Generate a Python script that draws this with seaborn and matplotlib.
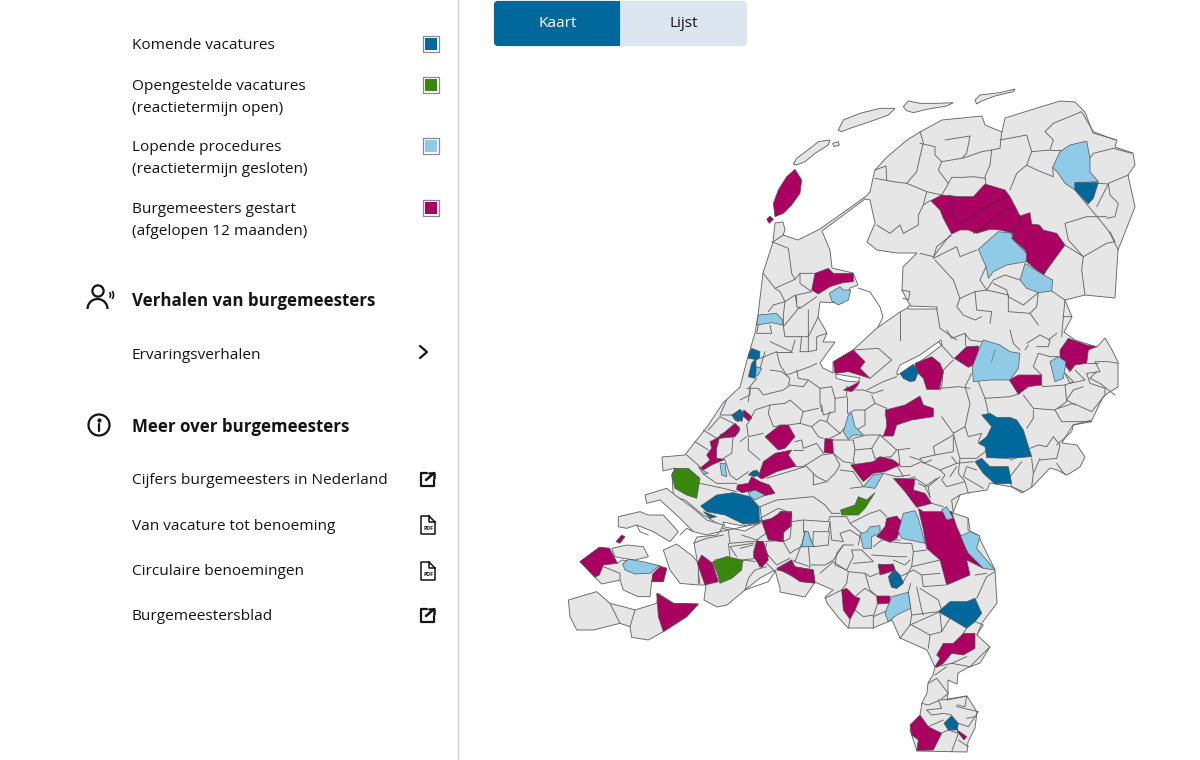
import matplotlib
matplotlib.use('Agg')
import matplotlib.pyplot as plt
from matplotlib.patches import Circle, Arc, FancyBboxPatch, Rectangle
import pandas as pd
import seaborn as sns

# ── Colours ───────────────────────────────────────────────────────────────────
BLUE    = '#01689b'
GREEN   = '#39870c'
LIGHT   = '#8fcae7'
MAGENTA = '#a90061'
LAND    = '#e6e6e6'
LINE    = '#666666'
TEXT    = '#141414'

# ── Legend and menu ───────────────────────────────────────────────────────────
legend_labels = ['Komende vacatures', 'Opengestelde vacatures', 'Lopende procedures', 'Burgemeesters gestart']
legend_notes  = ['', '(reactietermijn open)', '(reactietermijn gesloten)', '(afgelopen 12 maanden)']
menu_heads    = ['Verhalen van burgemeesters', 'Meer over burgemeesters']
menu_items    = ['Ervaringsverhalen', 'Cijfers burgemeesters in Nederland', 'Van vacature tot benoeming',
                 'Circulaire benoemingen', 'Burgemeestersblad']
tabs          = ['Kaart', 'Lijst']

# ── Map, traced in picture pixels ─────────────────────────────────────────────
mainland = [(783,222),(785,230),(783,235),(798,240),(810,234),(820,229),(865,197),(870,192),(873,178),(875,170),(887,157),
    (907,140),(920,132),(942,120),(982,116),(985,125),(1002,132),(1005,118),(1037,108),(1060,101),(1075,102),
    (1085,112),(1093,133),(1117,140),(1115,147),(1133,153),(1135,165),(1128,175),(1135,207),(1118,250),(1115,298),
    (1085,295),(1065,300),(1072,317),(1064,332),(1075,340),(1097,347),(1105,338),(1112,350),(1118,362),(1118,387),
    (1108,393),(1103,397),(1092,420),(1073,425),(1062,443),(1077,445),(1085,457),(1080,467),(1067,475),(1057,470),
    (1050,468),(1032,487),(1022,493),(1012,487),(990,483),(987,490),(967,493),(960,495),(953,513),(968,518),
    (968,530),(978,535),(995,570),(997,603),(982,623),(977,635),(990,647),(980,663),(967,668),(958,673),(957,684),
    (948,680),(948,693),(947,700),(967,696),(977,712),(975,728),(968,742),(967,752),(917,751),(910,730),(920,715),
    (922,703),(927,693),(928,683),(933,675),(935,667),(927,650),(900,638),(892,620),(873,628),(848,628),(838,617),
    (827,603),(825,597),(833,590),(815,582),(805,597),(780,592),(780,588),(775,570),(760,578),(745,590),(727,605),
    (717,607),(704,600),(706,585),(700,585),(697,560),(694,543),(697,537),(717,535),(723,527),(703,515),(685,500),
    (675,497),(673,492),(672,475),(675,468),(663,471),(662,457),(685,455),(695,442),(707,427),(723,403),(740,387),
    (747,360),(755,333),(758,315),(763,273),(773,242),(775,223)]

ijsselmeer = [(822,231),(865,199),(870,200),(875,223),(867,242),(877,250),(897,253),(917,253),(903,267),(902,290),
    (907,300),(911,306),(900,312),(877,328),(853,350),(833,362),(833,373),(823,368),(820,363),(835,342),(823,342),
    (827,333),(818,317),(820,302),(842,303),(850,288),(858,285),(853,273),(832,268),(830,250)]
other_water = [
    [(897,372),(900,365),(920,355),(941,340),(942,345),(925,358),(905,372),(897,375)],
    [(836,374),(860,378),(858,382),(845,381),(836,378)],
    [(908,306),(937,307),(937,309),(908,309)],
    [(723,522),(743,526),(757,523),(762,519),(760,523),(745,531),(725,527)],
]
houtribdijk = [(858,288),(870,292),(880,307),(883,317),(878,327)]

north_islands = [
    [(100,222),(110,205),(150,175),(175,155),(210,150),(205,165),(165,190),(135,215),(110,225)],
    [(218,160),(235,155),(238,165),(222,170)],
    [(235,120),(250,90),(300,70),(360,55),(405,55),(385,75),(330,95),(270,115),(245,125)],
    [(430,50),(445,33),(480,40),(530,40),(580,38),(560,48),(500,58),(460,68),(440,62)],
    [(645,30),(660,15),(720,8),(765,-3),(760,5),(705,18),(665,33),(650,42)],
]
sw_islands = [
    [(255,285),(320,265),(345,285),(400,325),(440,360),(490,375),(480,395),(440,405),(400,395),(355,350),(300,300),(260,310)],
    [(175,350),(240,335),(265,345),(310,345),(355,395),(330,425),(280,395),(230,375),(200,385),(175,380)],
    [(155,445),(200,435),(250,440),(265,470),(225,480),(190,475),(165,470)],
    [(60,485),(118,442),(148,445),(172,490),(185,480),(298,497),(320,505),(310,545),(275,545),(270,590),(235,590),(190,570),(180,540),(125,552),(105,532)],
    [(310,450),(350,432),(400,470),(415,490),(415,555),(360,550),(330,510)],
    [(25,600),(110,575),(150,610),(190,620),(225,630),(290,610),(295,580),(340,610),(415,612),(380,650),(310,695),(265,720),(215,712),(210,680),(180,670),(100,690),(50,690),(30,650)],
]

# statuses per map part, coordinates of a 3x crop of that part
north_light = [
    [(900,185),(930,165),(980,153),(990,205),(990,245),(1015,275),(945,278),(945,300),(915,280),(895,250),(878,232)],
    [(655,478),(715,425),(760,430),(755,445),(800,490),(798,515),(740,525),(700,545),(685,565),(678,530)],
    [(780,570),(795,520),(855,557),(878,570),(875,603),(835,608),(800,595)],
    [(208,610),(240,590),(250,600),(272,600),(265,630),(235,645),(215,632)],
]
north_blue = [[(945,278),(1015,278),(1000,325),(985,342),(945,300)]]
north_magenta = [
    [(512,332),(545,315),(600,320),(640,320),(675,282),(735,300),(750,320),(780,378),(810,368),(815,402),(838,405),(850,420),(890,430),(915,465),(860,540),(850,557),(800,515),(795,480),(755,445),(760,430),(720,420),(690,418),(650,430),(625,420),(600,420),(575,432),(550,385),(540,360)],
    [(155,600),(165,550),(205,535),(220,550),(280,550),(280,575),(250,578),(210,590),(175,612)],
]
texel_magenta = [
    [(225,28),(245,60),(240,100),(215,135),(190,160),(165,170),(160,130),(175,90),(200,50)],
    [(140,178),(150,168),(160,178),(148,190)],
]
holland_light = [
    [(115,465),(170,460),(188,480),(188,495),(155,488),(110,495)],
    [(108,620),(125,625),(115,645),(105,645)],
]
holland_blue = [[(85,585),(95,565),(120,575),(118,595),(108,600),(108,635),(105,655),(85,650),(95,610),(105,598),(85,595)]]

mid_magenta = [
    [(340,95),(400,60),(435,95),(420,115),(450,145),(385,125),(345,130)],
    [(370,180),(420,155),(410,170),(395,185)],
    [(585,100),(635,80),(660,100),(670,125),(658,178),(620,178),(610,145),(590,125)],
    [(703,85),(740,50),(775,48),(780,95),(745,112)],
    [(1020,60),(1045,25),(1100,45),(1130,50),(1105,60),(1100,100),(1065,105),(1050,125),(1020,85)],
    [(868,150),(895,135),(965,135),(965,165),(925,170),(895,193)],
    [(497,240),(555,225),(580,210),(600,198),(610,225),(640,235),(640,260),(575,270),(530,285),(520,318),(490,318),(500,290)],
    [(315,325),(338,328),(340,370),(312,368)],
    [(135,320),(180,285),(205,285),(225,320),(195,355),(175,360)],
    [(115,440),(130,395),(165,370),(215,360),(205,375),(228,408),(170,425),(125,447)],
    [(52,465),(85,460),(95,440),(120,455),(148,465),(165,490),(130,498),(100,482),(65,488),(50,478)],
    [(125,572),(165,565),(180,545),(215,545),(212,590),(192,600),(190,635),(150,628),(145,598)],
    [(100,668),(110,632),(130,635),(145,680),(120,712)],
    [(170,715),(215,690),(225,710),(280,720),(285,760),(245,755),(200,730)],
    [(392,405),(460,395),(480,380),(520,390),(540,405),(495,425),(460,430),(430,455)],
    [(520,445),(585,447),(580,480),(615,490),(635,520),(590,532),(555,485)],
    [(595,535),(610,545),(695,545),(710,590),(740,655),(790,715),(740,690),(750,735),(680,765),(660,690),(620,655),(610,600)],
    [(470,620),(495,590),(500,565),(530,558),(550,580),(530,625),(510,637)],
    [(475,702),(520,710),(525,720),(480,735)],
    [(70,240),(95,265),(85,272),(70,258)],
    [(0,315),(45,290),(60,300),(45,320),(0,325)],
]
mid_light = [
    [(757,110),(780,50),(790,30),(840,45),(870,65),(900,70),(895,115),(870,150),(810,150),(760,155)],
    [(990,95),(1015,80),(1038,95),(1030,145),(1005,155)],
    [(385,255),(395,250),(405,290),(430,315),(400,315),(385,328),(370,305)],
    [(85,487),(105,480),(135,495),(105,510),(90,500)],
    [(430,470),(460,435),(490,430),(465,475)],
    [(665,540),(680,530),(700,565),(680,570)],
    [(722,618),(750,605),(780,618),(770,655),(825,720),(790,715),(745,670),(735,650)],
    [(535,605),(550,550),(585,542),(595,565),(615,640),(545,625)],
    [(420,612),(440,605),(450,590),(480,587),(480,610),(455,620),(455,655),(430,655)],
    [(245,645),(255,602),(265,610),(280,650)],
]
mid_blue = [
    [(540,130),(580,103),(595,125),(585,152),(570,155),(550,145)],
    [(35,255),(60,240),(70,255),(55,275),(45,270)],
    [(90,430),(110,420),(120,435),(100,440)],
    [(505,740),(520,722),(535,735),(550,755),(530,775),(515,770)],
    [(785,255),(810,250),(830,262),(870,262),(890,270),(910,300),(935,380),(860,385),(800,383),(795,350),(775,340),(800,320),(815,290)],
    [(765,395),(785,385),(810,410),(865,410),(875,460),(825,462),(790,430)],
]
mid_green = [[(362,540),(405,525),(415,500),(440,510),(465,488),(435,535),(415,555),(365,555)]]

sw_magenta = [
    [(60,485),(118,442),(148,445),(172,490),(130,495),(118,525),(105,532)],
    [(275,545),(278,522),(300,500),(320,505),(310,545)],
    [(290,580),(340,610),(415,612),(380,650),(310,695),(295,650)],
    [(412,490),(425,465),(458,490),(475,545),(435,555)],
    [(580,470),(590,425),(610,425),(625,480),(605,503)],
    [(650,510),(695,480),(700,500),(760,510),(765,548),(720,545),(680,515)],
    [(605,365),(635,355),(665,335),(695,338),(690,380),(668,400),(665,425),(625,420)],
    [(168,425),(185,405),(195,410),(180,430)],
    [(420,205),(450,180),(440,165),(455,145),(450,125),(470,115),(490,100),(525,70),(540,85),(520,100),(478,115),(470,145),(470,175),(495,178),(455,195),(430,210)],
    [(552,30),(575,50),(565,62),(552,50)],
]
sw_light = [
    [(188,492),(205,478),(250,485),(298,497),(270,520),(225,522),(195,510)],
    [(725,440),(735,395),(745,395),(752,420),(762,440)],
    [(415,200),(430,212),(445,220),(430,222)],
    [(480,190),(495,190),(500,230),(485,225)],
]
sw_blue = [
    [(422,318),(470,285),(520,278),(570,290),(597,320),(598,368),(550,372),(495,345),(440,335)],
    [(430,335),(470,350),(450,355)],
    [(565,225),(580,212),(600,220),(595,228)],
    [(518,45),(540,28),(552,40),(545,65)],
]
sw_green = [[(335,225),(345,205),(385,205),(420,235),(415,265),(410,295),(380,285),(345,265)]]

south_magenta = [
    [(175,15),(220,12),(225,30),(190,42),(180,40)],
    [(65,90),(80,85),(105,110),(120,115),(105,150),(90,178),(70,150)],
    [(170,108),(210,108),(210,130),(172,132)],
    [(345,320),(360,295),(350,285),(370,250),(400,250),(430,220),(465,220),(465,265),(430,285),(395,280),(370,310),(350,322)],
    [(270,495),(300,465),(325,500),(365,520),(340,570),(290,572),(295,540),(275,525)],
    [(412,510),(440,530),(432,540),(412,515)],
]
south_light = [[(195,160),(215,110),(265,97),(272,145),(230,165),(205,185)]]
south_blue = [
    [(207,60),(225,30),(240,45),(250,70),(230,85),(215,82)],
    [(355,155),(390,125),(440,125),(465,115),(485,160),(465,185),(440,205),(390,175)],
    [(372,490),(395,467),(415,490),(412,510),(385,510)],
]
brabant_green = [[(458,485),(500,470),(548,480),(545,510),(515,535),(480,550),(472,520)]]

# municipal borders
north_borders = [
    [(480,125),(490,158),(480,200),(470,245),(440,280)],
    [(480,160),(525,170),(525,195),(545,215),(535,240),(565,280)],
    [(555,150),(630,138),(620,190),(605,205),(545,215)],
    [(608,205),(665,185),(695,180),(690,225),(675,260),(678,282)],
    [(565,280),(575,262),(610,262),(640,260),(675,265)],
    [(725,125),(720,175),(695,180)],
    [(720,150),(800,135),(815,185),(800,225),(770,250),(750,300)],
    [(815,185),(870,180),(880,150),(855,125),(880,100),(965,65),(1000,125),(1065,150)],
    [(870,180),(905,180)],
    [(800,225),(830,240),(880,260),(878,232)],
    [(1000,190),(1060,175),(1115,190)],
    [(990,205),(1000,190)],
    [(1105,255),(1045,280),(1050,315),(1075,340),(1065,380),(1040,385)],
    [(1015,280),(1045,282),(1010,350)],
    [(945,300),(1040,415),(1050,430),(1075,480)],
    [(1040,380),(980,380),(915,400),(925,450),(970,500),(1040,460),(1065,455),(1050,425)],
    [(970,500),(965,540),(975,615)],
    [(915,465),(970,500)],
    [(875,603),(915,630)],
    [(345,265),(400,275),(440,280),(500,305),(490,345),(475,375),(475,405),(430,430),(420,405),(390,430),(350,405)],
    [(345,240),(378,228),(380,270)],
    [(500,305),(545,315),(560,290),(565,280)],
    [(510,332),(490,345)],
    [(480,490),(520,500),(570,435)],
    [(520,505),(530,470),(575,435)],
    [(520,505),(590,470),(600,500),(650,480)],
    [(525,510),(580,570),(600,625)],
    [(678,530),(660,570),(680,600),(700,570),(735,555),(780,570)],
    [(700,580),(740,600),(745,620),(790,645),(835,608)],
    [(600,625),(645,605),(680,600),(745,615)],
    [(600,625),(590,650),(610,675),(645,690),(665,680)],
    [(645,605),(650,660),(695,665),(690,700)],
    [(745,615),(745,665),(810,670),(835,705)],
    [(835,608),(830,650),(810,670)],
    [(915,630),(910,680),(935,680)],
    [(910,680),(905,740)],
    [(530,655),(540,715),(590,750)],
    [(420,665),(420,750)],
    [(425,600),(450,605),(445,630),(430,625)],
]
holland_borders = [
    [(160,245),(190,225)],
    [(155,245),(205,265),(215,340),(225,358),(240,340),(285,340)],
    [(130,340),(165,385),(225,358)],
    [(165,385),(180,395),(195,425),(225,405),(230,430)],
    [(240,340),(240,370),(275,395),(230,405),(230,440),(240,445),(290,410)],
    [(145,455),(160,435),(195,425),(190,465),(190,500),(240,440)],
    [(115,495),(110,520),(155,520),(150,495)],
    [(190,500),(195,530),(245,530),(265,530),(265,450)],
    [(150,545),(215,575),(225,540)],
    [(245,530),(240,575),(265,575),(265,530)],
    [(295,470),(265,530)],
    [(320,520),(290,530),(290,570),(265,575)],
    [(170,575),(180,615),(200,645),(270,620),(290,610)],
    [(120,595),(170,575)],
    [(135,575),(120,625),(110,650)],
    [(110,655),(90,680),(85,725)],
    [(170,575),(215,575)],
    [(450,655),(515,600),(475,565),(400,570)],
    [(440,690),(490,665),(530,650)],
]
mid_borders = [
    [(635,520),(670,530)],
    [(700,550),(695,510),(720,495)],
    [(745,565),(750,600)],
    [(510,635),(550,640),(575,640),(580,665),(620,660)],
    [(580,665),(575,710),(660,690)],
    [(575,710),(550,755)],
    [(100,640),(30,650),(50,680)],
    [(660,440),(625,470),(630,505)],
    [(625,470),(585,445)],
]
centre_borders = [
    [(20,55),(55,55),(70,75),(130,60),(150,45),(190,50),(205,30)],
    [(90,0),(125,5),(150,25),(145,45)],
    [(170,0),(175,25),(205,30),(240,55),(240,100),(245,125)],
    [(240,55),(275,50),(285,85),(285,125),(250,135),(245,105)],
    [(285,85),(320,80),(320,50),(340,60),(370,60)],
    [(320,80),(320,130)],
    [(370,60),(400,70),(430,60)],
    [(395,75),(405,100),(375,120),(345,120),(325,130)],
    [(375,120),(375,165),(350,180)],
    [(405,100),(440,115),(435,135),(445,155)],
    [(0,90),(30,75),(30,50)],
    [(30,150),(45,120),(90,105),(135,100),(150,90),(190,125),(235,115)],
    [(90,105),(85,130),(100,170),(135,165)],
    [(190,125),(180,160),(145,165)],
    [(180,160),(215,170),(235,200),(250,205)],
    [(215,170),(240,150),(260,155),(300,190),(325,160)],
    [(260,155),(270,125)],
    [(300,190),(270,205)],
    [(275,210),(340,210),(345,240),(395,235),(420,195),(430,200)],
    [(340,205),(380,195),(420,195)],
    [(345,240),(340,270),(345,285)],
    [(395,235),(405,265),(450,260)],
    [(420,195),(470,240),(510,235)],
    [(470,240),(450,265)],
    [(165,215),(185,210),(190,235),(230,220),(250,250)],
    [(190,240),(160,240)],
    [(280,250),(310,275),(340,280)],
    [(165,290),(190,290),(245,255),(280,250),(300,285),(285,310),(260,335),(230,320),(195,285)],
    [(300,300),(340,305)],
    [(80,325),(130,310),(195,290)],
    [(70,190),(25,200),(20,165),(30,150)],
    [(20,200),(0,215)],
    [(25,205),(25,240),(60,270)],
    [(220,310),(220,345),(260,335)],
    [(340,305),(370,350),(330,355)],
    [(430,310),(470,320),(510,315)],
    [(470,285),(490,320)],
    [(475,240),(480,290),(510,290)],
]
brabant_borders = [
    [(60,50),(110,30),(220,20),(255,45),(275,70),(300,70)],
    [(60,50),(65,90)],
    [(60,85),(115,55),(155,70),(155,95),(190,90),(265,95),(270,80),(320,80),(330,100),(390,70),(420,60),(440,80)],
    [(155,95),(150,145),(130,155)],
    [(190,90),(190,125)],
    [(220,125),(265,125),(270,95)],
    [(220,125),(218,170),(265,165),(268,125)],
    [(130,155),(150,190),(165,180),(185,170),(182,165)],
    [(182,170),(205,170),(210,225),(255,225),(280,210),(310,165),(340,165)],
    [(270,95),(275,150),(310,155),(300,130),(330,120),(360,140),(355,165)],
    [(330,100),(365,130)],
    [(285,225),(290,190),(310,165)],
    [(285,225),(320,240),(340,200),(335,180),(365,180)],
    [(365,180),(400,215),(340,220)],
    [(180,175),(165,215),(160,210)],
    [(75,155),(130,150)],
    [(80,160),(75,185),(110,225),(150,205)],
    [(40,165),(0,175)],
    [(85,125),(50,150),(5,135)],
    [(0,220),(15,210),(45,215)],
    [(80,230),(45,240),(25,265),(15,300)],
    [(80,220),(105,245),(85,275),(15,300)],
    [(165,215),(210,230),(205,250)],
    [(395,195),(470,200),(500,200)],
    [(400,170),(425,150),(480,150)],
    [(460,210),(495,225),(510,210)],
]
east_borders = [
    [(85,35),(130,85)],
    [(110,0),(125,25),(165,10),(180,30),(215,35)],
    [(165,10),(165,45)],
    [(130,90),(100,120),(95,170),(90,180)],
    [(90,175),(145,170),(180,175)],
    [(185,130),(165,170),(180,220),(165,290),(130,310),(95,260)],
    [(205,155),(225,205),(300,200),(330,190)],
    [(225,205),(235,250)],
    [(340,195),(370,235),(435,240),(470,215),(465,165)],
    [(370,240),(370,265),(350,295)],
    [(435,240),(455,275),(545,275)],
    [(445,235),(490,220),(545,245),(585,195),(585,175),(540,160),(530,130)],
    [(395,165),(400,170),(465,165),(490,155),(465,130)],
    [(465,130),(480,160),(525,150),(495,120)],
    [(495,225),(470,210),(490,180),(520,170)],
    [(530,130),(570,125),(555,95),(595,95),(625,100)],
    [(560,125),(540,145),(570,160),(615,195)],
    [(530,100),(565,100)],
    [(300,0),(310,40),(330,60)],
    [(350,40),(390,15),(420,30),(415,50),(380,50)],
    [(415,30),(440,10)],
    [(370,110),(385,70),(420,80),(445,80)],
    [(370,110),(395,135)],
    [(355,45),(345,60)],
    [(545,275),(490,285),(485,305),(440,345)],
    [(360,355),(385,345),(410,350),(430,320),(450,345),(440,385)],
    [(365,385),(370,430),(365,470)],
    [(390,385),(370,430)],
    [(440,385),(390,390)],
    [(440,400),(465,435)],
    [(130,310),(145,370),(150,385),(200,385),(225,365)],
    [(165,290),(175,320),(215,310),(205,335)],
    [(130,320),(130,365),(75,375),(70,350),(130,315)],
    [(75,375),(30,385),(40,400),(65,390)],
    [(0,410),(35,395),(90,420),(140,400),(125,380)],
    [(90,420),(105,435),(95,450),(110,470),(165,455),(175,490)],
    [(165,455),(145,430),(150,385)],
    [(120,440),(140,410)],
    [(200,420),(170,410),(160,440),(220,475)],
    [(300,440),(335,395)],
    [(300,455),(305,470),(340,485)],
    [(300,390),(330,380)],
    [(190,395),(140,400)],
    [(30,390),(0,380)],
    [(80,445),(45,470),(25,460)],
    [(45,470),(60,500)],
    [(0,445),(15,440)],
]
sw_borders = [
    [(430,90),(470,115)],
    [(405,125),(445,150)],
    [(380,165),(420,200)],
    [(500,0),(480,45),(520,45)],
    [(520,70),(480,50),(445,90)],
    [(520,100),(515,160),(490,175)],
    [(495,180),(510,225),(530,240),(565,215)],
    [(430,222),(470,250),(530,250)],
    [(420,250),(490,265),(530,275)],
    [(490,385),(505,390),(510,430)],
    [(480,395),(600,370)],
    [(510,430),(565,425),(590,425)],
    [(400,430),(440,415),(490,405)],
    [(465,480),(510,470),(505,430)],
    [(548,480),(590,475)],
    [(150,610),(180,670)],
    [(210,680),(225,630)],
    [(130,500),(180,520),(180,540)],
    [(360,405),(380,385),(400,395)],
    [(230,375),(240,395),(265,405)],
]
south_borders = [
    [(15,115),(65,90)],
    [(85,205),(90,178)],
    [(105,110),(135,85),(170,108)],
    [(160,205),(160,170),(205,150)],
    [(172,132),(160,170)],
    [(105,150),(130,170),(160,165)],
    [(0,40),(40,5),(85,35),(80,70),(65,90)],
    [(85,35),(135,40),(150,50),(175,40)],
    [(135,40),(150,90),(170,108)],
    [(240,50),(280,30),(305,45),(360,40)],
    [(305,45),(310,80),(375,75)],
    [(272,70),(265,97),(275,165),(355,155)],
    [(290,80),(305,150),(310,165)],
    [(300,85),(355,120),(365,150)],
    [(275,165),(270,195),(240,235)],
    [(275,195),(330,225),(325,265)],
    [(270,195),(360,155),(365,215),(330,225)],
    [(390,175),(365,215)],
    [(430,220),(440,205)],
    [(465,185),(490,195),(470,225)],
    [(470,115),(500,50),(525,35)],
    [(465,45),(500,40)],
    [(350,320),(395,310),(450,320),(470,300),(510,260)],
    [(395,310),(440,290)],
    [(345,345),(380,320)],
    [(325,370),(350,355),(385,400),(360,420),(325,435),(305,430)],
    [(355,420),(365,445),(320,450)],
    [(365,420),(440,408),(435,440),(410,435)],
    [(320,450),(335,465),(370,460),(395,465)],
    [(410,440),(475,455),(445,500),(415,490)],
    [(440,475),(465,470)],
    [(325,500),(370,480)],
    [(350,525),(385,510),(415,520),(395,575)],
    [(415,540),(445,560)],
]
friesland_inner = [
    [(570,315),(575,350),(585,395),(610,395),(650,370),(690,345),(745,318)],
    [(640,430),(690,395),(730,365),(765,350)],
    [(780,378),(780,400),(755,435)],
]
overijssel_inner = [[(815,95),(825,60)]]


def place(x0, y0, polys):
    # the traced lists come from 3x crops with their corner at x0, y0
    return [[(x0 + x / 3, y0 + y / 3) for x, y in p] for p in polys]


NORTH, HOLLAND, MID, SW, SOUTH = (760, 90), (720, 160), (720, 330), (560, 400), (820, 560)
CENTRE, BRABANT, EAST = (740, 370), (740, 490), (910, 330)

land_parts = [mainland] + place(*NORTH, north_islands) + place(*SW, sw_islands)
water_parts = [ijsselmeer] + other_water
border_parts = (place(*NORTH, north_borders) + place(*HOLLAND, holland_borders) + place(*MID, mid_borders)
                + place(*CENTRE, centre_borders) + place(*BRABANT, brabant_borders) + place(*EAST, east_borders)
                + place(*SW, sw_borders) + place(*SOUTH, south_borders) + [houtribdijk])
status_parts = [
    (MAGENTA, place(*NORTH, north_magenta) + place(*HOLLAND, texel_magenta) + place(*MID, mid_magenta)
     + place(*SW, sw_magenta) + place(*SOUTH, south_magenta)),
    (LIGHT, place(*NORTH, north_light) + place(*HOLLAND, holland_light) + place(*MID, mid_light)
     + place(*SW, sw_light) + place(*SOUTH, south_light)),
    (BLUE, place(*NORTH, north_blue) + place(*HOLLAND, holland_blue) + place(*MID, mid_blue)
     + place(*SW, sw_blue) + place(*SOUTH, south_blue)),
    (GREEN, place(*MID, mid_green) + place(*SW, sw_green) + place(*SW, brabant_green)),
]


def borders_frame(parts):
    rows = []
    for i, part in enumerate(parts):
        for order, (x, y) in enumerate(part):
            rows.append({'id': i, 'order': order, 'x': x, 'y': y})
    return pd.DataFrame(rows)


# ── Figure ────────────────────────────────────────────────────────────────────
sns.set_theme(style='white')
plt.rcParams['font.family'] = ['Open Sans', 'DejaVu Sans']

fig = plt.figure(figsize=(12, 7.6), dpi=100, facecolor='white')
ax = fig.add_axes([0, 0, 1, 1])

# land, water
for part in land_parts:
    xs, ys = zip(*part)
    ax.fill(xs, ys, facecolor=LAND, edgecolor=LINE, linewidth=0.65, zorder=1)
for part in water_parts:
    xs, ys = zip(*part)
    ax.fill(xs, ys, facecolor='white', edgecolor=LINE, linewidth=0.65, zorder=2)

sns.lineplot(data=borders_frame(border_parts), x='x', y='y', units='id', estimator=None, sort=False,
             color=LINE, linewidth=0.65, legend=False, ax=ax, zorder=3)

# coloured municipalities
for colour, parts in status_parts:
    for part in parts:
        xs, ys = zip(*part)
        ax.fill(xs, ys, facecolor=colour, edgecolor='#555555', linewidth=0.5, zorder=4)

sns.lineplot(data=borders_frame(place(*NORTH, friesland_inner)), x='x', y='y', units='id', estimator=None, sort=False,
             color='#4d2a3d', linewidth=0.6, legend=False, ax=ax, zorder=5)
sns.lineplot(data=borders_frame(place(*MID, overijssel_inner)), x='x', y='y', units='id', estimator=None, sort=False,
             color=LINE, linewidth=0.5, legend=False, ax=ax, zorder=5)

# ── Left panel ────────────────────────────────────────────────────────────────
ax.plot([458, 458], [0, 760], color='#cfcfcf', lw=1, zorder=1)

font = dict(fontsize=11.1, color=TEXT, va='center', ha='left')
for label, y in zip(legend_labels, [45.5, 86.5, 147.5, 209.5]):
    ax.text(131.5, y, label, **font)
for note, y in zip(legend_notes, [0, 108.5, 169.5, 231.5]):
    if note:
        ax.text(131.5, y, note, **font)

swatches = pd.DataFrame({'x': [431] * 4, 'y': [44, 85, 146, 208], 'label': legend_labels})
sns.scatterplot(data=swatches, x='x', y='y', marker='s', s=125, color='white', edgecolor='#8a8a8a', linewidth=0.9,
                legend=False, ax=ax, zorder=6)
sns.scatterplot(data=swatches, x='x', y='y', hue='label', palette=[BLUE, GREEN, LIGHT, MAGENTA], marker='s', s=78,
                linewidth=0, legend=False, ax=ax, zorder=7)

for head, y in zip(menu_heads, [300.5, 426.5]):
    ax.text(131.5, y, head, fontsize=12.2, fontweight='bold', color=TEXT, va='center', ha='left')
for item, y in zip(menu_items, [355.5, 480.5, 526.5, 571.5, 616.5]):
    ax.text(131.5, y, item, **font)

# person icon
ink = dict(color=TEXT, lw=1.6, zorder=6)
ax.add_patch(Circle((98, 291), 5.6, fill=False, ec=TEXT, lw=1.6))
ax.add_patch(Arc((97.5, 309), 20, 20, theta1=180, theta2=360, ec=TEXT, lw=1.6))
ax.add_patch(Arc((108, 295), 5, 7, theta1=-60, theta2=60, ec=TEXT, lw=1.2))
ax.add_patch(Arc((109, 295), 9, 11, theta1=-50, theta2=50, ec=TEXT, lw=1.2))

# info icon
ax.add_patch(Circle((99, 425), 10.5, fill=False, ec=TEXT, lw=1.6))
ax.plot([99, 99], [424, 431], **ink)
ax.plot([99], [420], marker='o', ms=2, color=TEXT)

# chevron
ax.plot([420, 427, 420], [346, 352, 358], **ink)

# external link icons
for y in [479, 615]:
    ax.plot([427, 421, 421, 434, 434], [y - 6, y - 6, y + 7, y + 7, y + 1], **ink)
    ax.plot([426, 434], [y + 1, y - 6], color=TEXT, lw=1.8, zorder=6)
    ax.plot([429, 434, 434], [y - 6, y - 6, y - 1], color=TEXT, lw=1.8, zorder=6)

# pdf icons
for y in [525, 571]:
    ax.plot([429, 421, 421, 435, 435, 429, 429, 435], [y - 9, y - 9, y + 9, y + 9, y - 3, y - 9, y - 3, y - 3],
            color=TEXT, lw=1.1, zorder=6)
    ax.text(428, y + 4, 'PDF', fontsize=3.8, fontweight='bold', color=TEXT, ha='center', va='center')

# tabs
ax.add_patch(FancyBboxPatch((496, 3), 249, 41, boxstyle='round,pad=0,rounding_size=2', fc='#dbe6f0', ec='#dbe6f0', lw=3))
ax.add_patch(FancyBboxPatch((496, 3), 122, 41, boxstyle='round,pad=0,rounding_size=2', fc=BLUE, ec=BLUE, lw=3))
ax.add_patch(Rectangle((600, 1), 20, 45, fc=BLUE, ec='none'))
ax.text(558, 23.5, tabs[0], fontsize=11.1, color='white', ha='center', va='center')
ax.text(684, 23.5, tabs[1], fontsize=11.1, color=TEXT, ha='center', va='center')

ax.set_xlabel('')
ax.set_ylabel('')
ax.set_xlim(0, 1200)
ax.set_ylim(760, 0)
ax.axis('off')

fig.savefig('out.png', dpi=100)
